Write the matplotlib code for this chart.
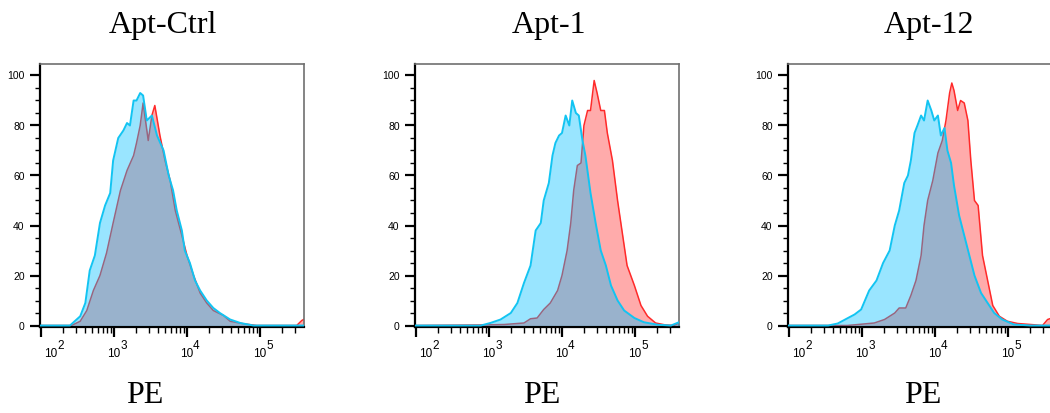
import numpy as np
import matplotlib
matplotlib.use("Agg")
import matplotlib.pyplot as plt
from matplotlib.ticker import FixedLocator, LogLocator, NullFormatter

titles = ["Apt-Ctrl", "Apt-1", "Apt-12"]
xlabel = "PE"
ytick_vals = [0, 20, 40, 60, 80, 100]
xtick_exps = [2, 3, 4, 5]

# Panel 1 (Apt-Ctrl): log10(PE) positions and % of max
ctrl_blue_x = [1.99, 2.40, 2.54, 2.61, 2.67, 2.74, 2.81, 2.88, 2.95, 2.99, 3.06, 3.13, 3.18, 3.22, 3.27,
               3.31, 3.36, 3.40, 3.45, 3.52, 3.59, 3.68, 3.75, 3.81, 3.86, 3.93, 3.97, 4.04, 4.11, 4.18,
               4.27, 4.36, 4.45, 4.59, 4.73, 4.91, 5.60]
ctrl_blue_y = [0, 0, 3.7, 9, 22, 28, 41, 48, 53, 66, 75, 78, 81, 80, 90,
               90, 93, 92, 82, 84, 76, 70, 60, 54, 46, 38, 30, 25, 18, 14,
               10, 7, 5, 2.4, 1, 0, 0]
ctrl_red_x = [1.99, 2.42, 2.54, 2.63, 2.72, 2.81, 2.90, 2.99, 3.09, 3.18, 3.27, 3.31, 3.36, 3.40, 3.47,
              3.52, 3.56, 3.63, 3.70, 3.77, 3.84, 3.93, 4.00, 4.09, 4.18, 4.27, 4.36, 4.50, 4.59, 4.77,
              4.95, 5.50, 5.57, 5.60]
ctrl_red_y = [0, 0, 1.7, 6, 14, 20, 29, 41, 54, 62, 68, 73, 80, 89, 74,
              84, 88, 76, 66, 58, 46, 36, 28, 20, 13, 9, 6, 4, 1.7, 0.7,
              0, 0, 2, 2.5]

# Panel 2 (Apt-1)
apt1_blue_x = [1.99, 2.89, 3.02, 3.16, 3.30, 3.39, 3.48, 3.57, 3.64, 3.71, 3.75, 3.82, 3.87, 3.91, 3.96,
               4.00, 4.05, 4.10, 4.14, 4.19, 4.23, 4.28, 4.32, 4.39, 4.46, 4.53, 4.60, 4.67, 4.76, 4.85,
               4.99, 5.12, 5.31, 5.49, 5.60]
apt1_blue_y = [0, 0, 1, 2.4, 5, 9, 17, 24, 38, 41, 50, 57, 68, 73, 76,
               77, 84, 80, 90, 85, 84, 74, 68, 53, 41, 30, 24, 16, 10, 6,
               3, 1.3, 0.3, 0, 1.3]
apt1_red_x = [1.99, 2.89, 3.21, 3.48, 3.57, 3.66, 3.75, 3.84, 3.94, 4.00, 4.07, 4.12, 4.16, 4.21, 4.26,
              4.30, 4.35, 4.39, 4.44, 4.48, 4.53, 4.58, 4.62, 4.69, 4.76, 4.83, 4.89, 4.99, 5.08, 5.17,
              5.28, 5.40, 5.53, 5.60]
apt1_red_y = [0, 0.2, 0.4, 1, 2.7, 3, 6.4, 9, 14, 20, 30, 41, 54, 64, 65,
              80, 86, 86, 98, 93, 86, 86, 77, 66, 50, 36, 24, 16, 8, 3.7,
              1, 0.3, 0, 1]

# Panel 3 (Apt-12)
apt12_blue_x = [1.99, 2.54, 2.67, 2.81, 2.90, 2.99, 3.10, 3.20, 3.29, 3.38, 3.45, 3.51, 3.58, 3.63, 3.67,
                3.72, 3.76, 3.81, 3.85, 3.90, 3.95, 3.99, 4.04, 4.08, 4.13, 4.17, 4.22, 4.26, 4.33, 4.40,
                4.47, 4.54, 4.63, 4.72, 4.81, 4.92, 5.08, 5.31, 5.60]
apt12_blue_y = [0, 0, 0.8, 3, 4.4, 6.4, 14, 18, 25, 30, 40, 46, 57, 60, 66,
                77, 80, 84, 82, 90, 86, 82, 84, 76, 79, 70, 65, 56, 44, 36,
                28, 20, 13, 9, 5, 2.4, 0.4, 0, 0]
apt12_red_x = [1.99, 2.80, 2.95, 3.17, 3.31, 3.45, 3.51, 3.60, 3.67, 3.74, 3.81, 3.85, 3.90, 3.97, 4.04,
               4.10, 4.15, 4.20, 4.23, 4.26, 4.31, 4.35, 4.40, 4.45, 4.49, 4.54, 4.59, 4.65, 4.72, 4.79,
               4.88, 4.99, 5.13, 5.35, 5.47, 5.54, 5.60]
apt12_red_y = [0, 0, 0.4, 1, 2.4, 5, 7, 7, 12, 18, 28, 40, 50, 58, 69,
               74, 82, 93, 97, 94, 86, 90, 89, 82, 66, 50, 48, 28, 18, 8,
               3.7, 1.7, 0.8, 0.3, 0, 2.4, 3]

panels = [
    (ctrl_blue_x, ctrl_blue_y, ctrl_red_x, ctrl_red_y),
    (apt1_blue_x, apt1_blue_y, apt1_red_x, apt1_red_y),
    (apt12_blue_x, apt12_blue_y, apt12_red_x, apt12_red_y),
]

W, H = 1050, 413
fig = plt.figure(figsize=(W / 100, H / 100), dpi=100)

ax_left_px = [40, 415, 788]
ax_w_px = 264
ax_top_px = 64
ax_bot_px = 327
title_x = [0.466, 0.508, 0.535]
pe_x_px = [145, 542, 923]

blue_edge = '#12C4F2'
blue_fill = (0.0, 0.75, 1.0, 0.40)
red_edge = '#FF2A2A'
red_fill = (1.0, 0.0, 0.0, 0.33)

PT = 72 / 100  # points per pixel

for i, (bx, by, rx, ry) in enumerate(panels):
    ax = fig.add_axes([ax_left_px[i] / W, 1 - ax_bot_px / H, ax_w_px / W, (ax_bot_px - ax_top_px) / H])
    ax.set_xscale('log')
    rxv = 10 ** np.array(rx)
    bxv = 10 ** np.array(bx)
    ax.fill_between(rxv, 0, ry, color=red_fill, lw=0, zorder=1)
    ax.plot(rxv, ry, color=red_edge, lw=1.1, zorder=2)
    ax.fill_between(bxv, 0, by, color=blue_fill, lw=0, zorder=3)
    ax.plot(bxv, by, color=blue_edge, lw=1.4, zorder=4)

    ax.set_xlim(10 ** 1.99, 10 ** 5.6)
    ax.set_ylim(-0.6, 104.6)

    ax.set_yticks(ytick_vals)
    ax.set_yticklabels([str(v) for v in ytick_vals], fontsize=7.5, family='Liberation Sans')
    ax.yaxis.set_minor_locator(FixedLocator(np.arange(0, 105, 5)))
    ax.tick_params(axis='y', which='major', length=7, width=1.6, pad=4, direction='out')
    ax.tick_params(axis='y', which='minor', length=3.5, width=1.0, direction='out')

    ax.set_xticks([10 ** e for e in xtick_exps])
    ax.set_xticklabels([])
    ax.xaxis.set_minor_locator(LogLocator(base=10, subs=np.arange(2, 10), numticks=20))
    ax.xaxis.set_minor_formatter(NullFormatter())
    ax.tick_params(axis='x', which='major', length=7, width=1.6, direction='out')
    ax.tick_params(axis='x', which='minor', length=4, width=1.0, direction='out')

    trans = ax.get_xaxis_transform()
    for j, e in enumerate(xtick_exps):
        shift = 10 if j == 0 else 0
        ax.annotate('10', xy=(10 ** e, 0), xycoords=trans,
                    xytext=(shift * PT, -30 * PT), textcoords='offset points',
                    ha='center', va='baseline', fontsize=8.5, family='Liberation Sans',
                    annotation_clip=False)
        ax.annotate(str(e), xy=(10 ** e, 0), xycoords=trans,
                    xytext=((shift + 9.5) * PT, -22 * PT), textcoords='offset points',
                    ha='center', va='baseline', fontsize=8.5, family='Liberation Sans',
                    annotation_clip=False)

    for s in ['left', 'bottom']:
        ax.spines[s].set_color('black')
        ax.spines[s].set_linewidth(1.6)
    for s in ['top', 'right']:
        ax.spines[s].set_color('#707070')
        ax.spines[s].set_linewidth(1.2)

    ax.set_title(titles[i], x=title_x[i], pad=22, fontsize=23, family='Liberation Serif')
    fig.text(pe_x_px[i] / W, 1 - 403 / H, xlabel, ha='center', va='baseline',
             fontsize=23, family='Liberation Serif')

fig.savefig('out.png', dpi=100)
